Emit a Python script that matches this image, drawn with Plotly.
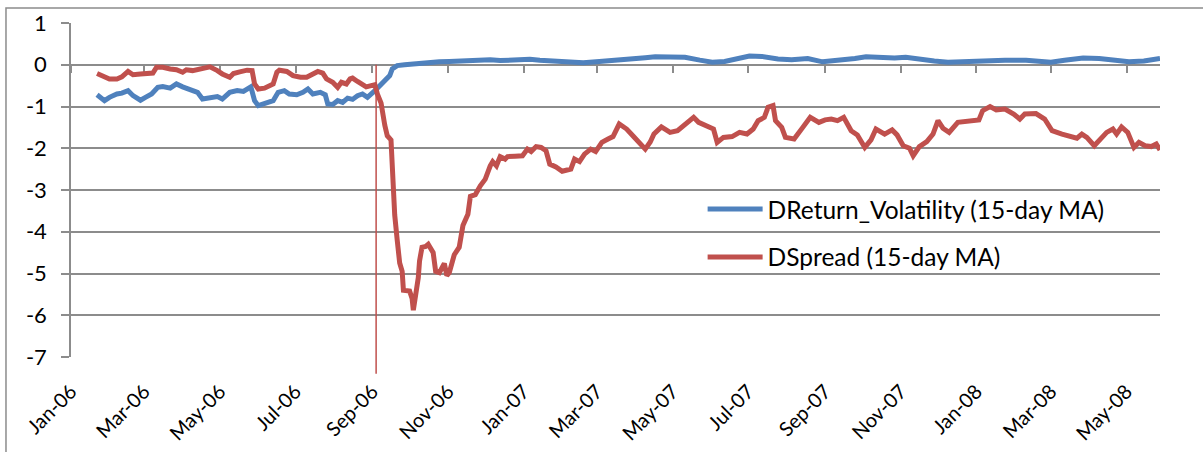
import pandas as pd
import plotly.graph_objects as go

# ---- data (days counted from 1 Jan 2006) ----
START = "2006-01-01"
END = "2008-05-28"
EVENT_DATE = "2006-09-04"

vol_days = [21, 24, 27, 31, 37, 41, 46, 50, 56, 60, 65, 70, 74, 80, 85, 90, 96, 102, 106, 112,
            118, 122, 128, 134, 139, 145, 148, 151, 156, 163, 167, 172, 176, 182, 187, 191, 195, 201, 205, 207,
            211, 215, 219, 223, 227, 231, 235, 239, 245, 249, 253, 257, 259, 263, 269, 275, 281, 289, 297, 305,
            313, 322, 330, 338, 346, 354, 362, 370, 378, 386, 398, 413, 426, 438, 450, 463, 471, 483, 495, 507,
            517, 527, 537, 547, 557, 570, 581, 594, 606, 620, 632, 641, 652, 664, 673, 684, 696, 707, 720, 737,
            753, 770, 781, 790, 801, 816, 829, 841, 853, 865, 873, 878]
vol_values = [-0.72, -0.80, -0.86, -0.78, -0.70, -0.68, -0.62, -0.74, -0.85, -0.78, -0.70, -0.54, -0.52, -0.56, -0.46, -0.53, -0.61, -0.66, -0.82, -0.78,
              -0.76, -0.82, -0.66, -0.62, -0.64, -0.53, -0.86, -0.98, -0.92, -0.86, -0.66, -0.62, -0.70, -0.72, -0.66, -0.58, -0.70, -0.66, -0.72, -0.94,
              -0.95, -0.86, -0.90, -0.80, -0.83, -0.74, -0.70, -0.78, -0.62, -0.50, -0.34, -0.26, -0.10, -0.02, 0.00, 0.02, 0.03, 0.06, 0.07, 0.08,
              0.09, 0.10, 0.11, 0.12, 0.10, 0.11, 0.12, 0.13, 0.11, 0.10, 0.08, 0.05, 0.08, 0.10, 0.14, 0.17, 0.19, 0.17, 0.18, 0.11,
              0.06, 0.08, 0.14, 0.21, 0.20, 0.14, 0.12, 0.15, 0.07, 0.10, 0.15, 0.19, 0.17, 0.16, 0.18, 0.13, 0.09, 0.06, 0.08, 0.10,
              0.11, 0.11, 0.09, 0.06, 0.11, 0.16, 0.15, 0.11, 0.07, 0.09, 0.12, 0.15]

spread_days = [21, 26, 31, 37, 41, 46, 50, 56, 61, 66, 69, 74, 80, 85, 90, 93, 98, 104, 110, 112,
               118, 122, 128, 131, 136, 142, 146, 148, 151, 156, 163, 166, 168, 174, 179, 185, 190, 195, 199, 203,
               206, 211, 215, 218, 222, 225, 227, 231, 235, 238, 242, 245, 247, 250, 253, 255, 258, 259, 261, 263,
               265, 267, 268, 273, 275, 276, 278, 280, 281, 283, 286, 288, 292, 294, 297, 300, 301, 303, 305, 309,
               313, 316, 320, 322, 326, 330, 334, 338, 340, 343, 346, 350, 352, 358, 364, 368, 371, 375, 379, 383,
               386, 391, 396, 400, 403, 406, 410, 414, 419, 423, 428, 433, 437, 442, 448, 453, 458, 463, 467, 470,
               476, 483, 489, 496, 502, 506, 512, 518, 521, 526, 533, 539, 545, 550, 554, 559, 562, 566, 568, 573,
               576, 583, 590, 596, 603, 608, 613, 618, 623, 629, 634, 640, 645, 649, 656, 662, 666, 671, 676, 679,
               684, 690, 695, 699, 703, 708, 715, 723, 732, 735, 741, 746, 753, 760, 765, 769, 778, 785, 791, 799,
               807, 811, 815, 819, 825, 830, 835, 840, 843, 847, 852, 857, 861, 866, 871, 875, 878]
spread_values = [-0.21, -0.29, -0.34, -0.34, -0.29, -0.16, -0.24, -0.22, -0.22, -0.20, -0.06, -0.06, -0.10, -0.12, -0.18, -0.12, -0.14, -0.10, -0.06, -0.05,
                 -0.14, -0.22, -0.30, -0.21, -0.17, -0.13, -0.14, -0.46, -0.58, -0.56, -0.46, -0.18, -0.13, -0.16, -0.26, -0.30, -0.30, -0.21, -0.16, -0.20,
                 -0.34, -0.42, -0.54, -0.42, -0.46, -0.34, -0.32, -0.40, -0.46, -0.53, -0.50, -0.48, -0.70, -0.92, -1.45, -1.70, -1.80, -2.60, -3.60, -4.20,
                 -4.75, -4.95, -5.40, -5.42, -5.60, -5.88, -5.55, -5.10, -4.70, -4.37, -4.35, -4.30, -4.50, -4.95, -4.98, -4.85, -4.76, -5.05, -4.98, -4.55,
                 -4.37, -3.85, -3.58, -3.15, -3.11, -2.90, -2.74, -2.42, -2.32, -2.42, -2.20, -2.26, -2.20, -2.19, -2.18, -2.02, -2.08, -1.96, -1.98, -2.06,
                 -2.38, -2.45, -2.55, -2.52, -2.50, -2.26, -2.32, -2.14, -2.02, -2.08, -1.86, -1.78, -1.72, -1.42, -1.54, -1.70, -1.88, -2.02, -1.85, -1.66,
                 -1.49, -1.62, -1.58, -1.42, -1.26, -1.38, -1.46, -1.54, -1.86, -1.74, -1.72, -1.62, -1.66, -1.54, -1.34, -1.26, -1.02, -0.98, -1.34, -1.50,
                 -1.74, -1.78, -1.50, -1.26, -1.38, -1.32, -1.30, -1.34, -1.26, -1.58, -1.68, -1.98, -1.80, -1.54, -1.66, -1.56, -1.68, -1.94, -2.00, -2.18,
                 -1.96, -1.84, -1.66, -1.34, -1.52, -1.62, -1.38, -1.36, -1.32, -1.10, -1.00, -1.08, -1.06, -1.18, -1.30, -1.18, -1.17, -1.30, -1.58, -1.66,
                 -1.74, -1.76, -1.66, -1.74, -1.94, -1.78, -1.62, -1.54, -1.66, -1.49, -1.62, -1.98, -1.86, -1.94, -1.96, -1.90, -2.04]

vol_name = "DReturn_Volatility (15-day MA)"
spread_name = "DSpread (15-day MA)"

y_ticks = [1, 0, -1, -2, -3, -4, -5, -6, -7]
y_tick_labels = ["1", "0", "-1", "-2", "-3", "-4", "-5", "-6", "-7"]

start = pd.Timestamp(START)
vol_dates = start + pd.to_timedelta(vol_days, unit="D")
spread_dates = start + pd.to_timedelta(spread_days, unit="D")

BLUE = "#4F81BD"
RED = "#C0504D"
GRID = "#8C8C8C"
FONT = "Lato"

fig = go.Figure()
fig.add_trace(go.Scatter(x=vol_dates, y=vol_values, mode="lines", name=vol_name,
                         line=dict(color=BLUE, width=5), legendgroup="a"))
fig.add_trace(go.Scatter(x=spread_dates, y=spread_values, mode="lines", name=spread_name,
                         line=dict(color=RED, width=5), legendgroup="b"))
# helper trace to register the axis drawn through y = 0 (tick marks)
fig.add_trace(go.Scatter(x=[], y=[], xaxis="x2", yaxis="y", showlegend=False, hoverinfo="skip"))

fig.update_layout(
    width=1203, height=452,
    margin=dict(l=71, r=43, t=23, b=95, autoexpand=False),
    paper_bgcolor="white", plot_bgcolor="white",
    font=dict(family=FONT, color="black"),
    showlegend=True,
    legend=dict(x=0.58, y=0.51, xanchor="left", yanchor="top",
                font=dict(size=24.5, family=FONT, color="black"),
                bgcolor="rgba(0,0,0,0)", traceorder="grouped", tracegroupgap=13,
                itemwidth=55),
    xaxis=dict(type="date", range=[START, END], tick0=START, dtick="M2",
               tickformat="%b-%y", tickangle=-45, showgrid=False, zeroline=False,
               ticks="", showline=False, tickfont=dict(size=20, family=FONT),
               ticklabelstandoff=18, automargin=False),
    xaxis2=dict(type="date", range=[START, END], tick0=START, dtick="M2",
                overlaying="x", anchor="free", position=0.875, side="bottom",
                ticks="outside", ticklen=7, tickwidth=1.5, tickcolor=GRID,
                showticklabels=False, showline=True, linecolor=GRID, linewidth=1.5,
                showgrid=False, zeroline=False, layer="below traces", automargin=False),
    yaxis=dict(range=[-7, 1], tickvals=y_ticks, ticktext=y_tick_labels,
               showgrid=True, gridcolor=GRID, gridwidth=1.5,
               zeroline=False, showline=True, linecolor=GRID, linewidth=1.5,
               ticks="outside", ticklen=8, tickwidth=1.5, tickcolor=GRID,
               tickfont=dict(size=22, family=FONT), ticklabelstandoff=10, automargin=False),
    shapes=[
        dict(type="line", xref="x", yref="paper", x0=EVENT_DATE, x1=EVENT_DATE,
             y0=-0.05, y1=0.875, line=dict(color=RED, width=1.5), layer="above"),
        dict(type="rect", xref="paper", yref="paper", x0=-0.0597, x1=1.06, y0=-0.4, y1=1.045,
             line=dict(color=GRID, width=1.5), fillcolor="rgba(0,0,0,0)", layer="below"),
    ],
)

fig.write_html("out.html", config={"displayModeBar": False},
               post_script="document.body.style.margin='0px';")
